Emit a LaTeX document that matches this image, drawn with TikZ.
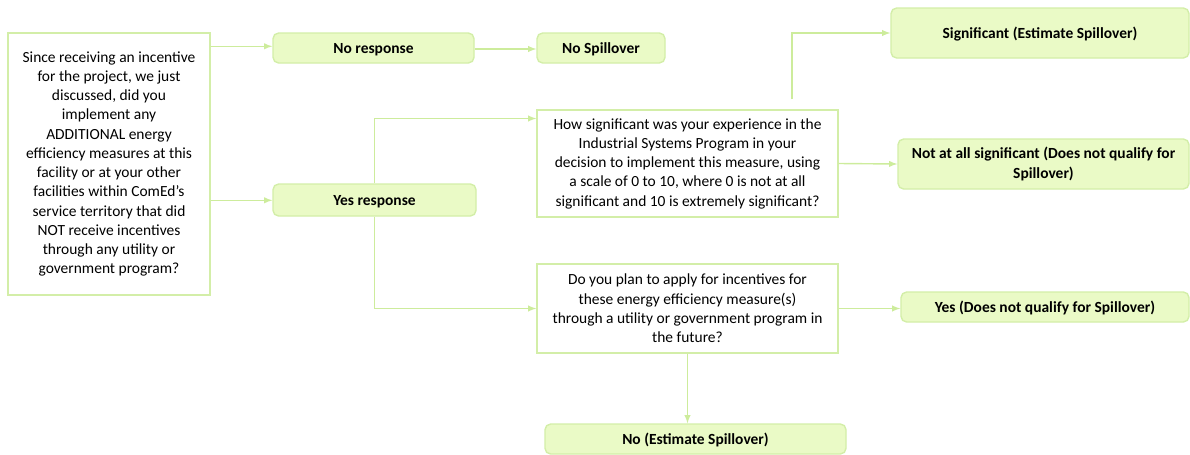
\documentclass[tikz,border=0pt]{standalone}
\usepackage{fontspec}
\setmainfont{Carlito}
\usetikzlibrary{positioning}
\newcommand{\unitsize}{0.025cm}
\definecolor{boxline}{HTML}{D3EEA8}
\definecolor{boxfill}{HTML}{EAFAC6}
\definecolor{linkcol}{HTML}{CDEC9C}

\tikzstyle{question}=[draw=boxline, fill=white, align=center, inner sep=0pt,
                      line width=1pt, font=\fontsize{11}{13.7}\selectfont]
\tikzstyle{answer}=[draw=boxline, fill=boxfill, rounded corners=4pt, align=center,
                    inner sep=0pt, line width=1pt, font=\bfseries\fontsize{11}{13.7}\selectfont]
\tikzstyle{oneline}=[text height=1.6ex, text depth=0.1ex]
\tikzstyle{link}=[draw=linkcol, line width=1pt, -latex]

\begin{document}
\begin{tikzpicture}
\useasboundingbox (0,0) rectangle (1190*\unitsize,-454*\unitsize);

% first question and its two answers
\node[question, minimum width=202*\unitsize, minimum height=262*\unitsize] (incent) at (109*\unitsize,-164*\unitsize)
  {Since receiving an incentive\\for the project, we just\\discussed, did you\\implement any\\ADDITIONAL energy\\efficiency measures at this\\facility or at your other\\facilities within ComEd’s\\service territory that did\\NOT receive incentives\\through any utility or\\government program?};
\node[answer, oneline, minimum width=201*\unitsize, minimum height=30*\unitsize] (noresp) at (373.5*\unitsize,-48*\unitsize) {No response};
\node[answer, oneline, minimum width=128*\unitsize, minimum height=30*\unitsize] (nospill) at (601*\unitsize,-48*\unitsize) {No Spillover};
\node[answer, oneline, minimum width=203*\unitsize, minimum height=32*\unitsize] (yesresp) at (374.5*\unitsize,-200*\unitsize) {Yes response};

% follow-up questions
\node[question, minimum width=301*\unitsize, minimum height=107*\unitsize] (signif) at (687.5*\unitsize,-163.5*\unitsize)
  {How significant was your experience in the\\Industrial Systems Program in your\\decision to implement this measure, using\\a scale of 0 to 10, where 0 is not at all\\significant and 10 is extremely significant?};
\node[question, minimum width=301*\unitsize, minimum height=89*\unitsize] (future) at (687.5*\unitsize,-308.5*\unitsize)
  {Do you plan to apply for incentives for\\these energy efficiency measure(s)\\through a utility or government program in\\the future?};

% outcomes
\node[answer, oneline, minimum width=298*\unitsize, minimum height=50*\unitsize] (sigyes) at (1040*\unitsize,-33*\unitsize) {Significant (Estimate Spillover)};
\node[answer, minimum width=291*\unitsize, minimum height=50*\unitsize] (signot) at (1043.5*\unitsize,-164*\unitsize) {Not at all significant (Does not qualify for\\Spillover)};
\node[answer, oneline, minimum width=288*\unitsize, minimum height=30*\unitsize] (futyes) at (1045*\unitsize,-307*\unitsize) {Yes (Does not qualify for Spillover)};
\node[answer, oneline, minimum width=301*\unitsize, minimum height=30*\unitsize] (futno) at (695.5*\unitsize,-439*\unitsize) {No (Estimate Spillover)};

% connectors
\draw[link] ([yshift=-14*\unitsize]incent.north east) -- ([yshift=-14*\unitsize]incent.north east -| noresp.west);
\draw[link] ([yshift=-168*\unitsize]incent.north east) -- ([yshift=-168*\unitsize]incent.north east -| yesresp.west);
\draw[link] ([yshift=-1*\unitsize]noresp.east) -- ([yshift=-1*\unitsize]noresp.east -| nospill.west);
\draw[link] (yesresp.north) |- ([yshift=45*\unitsize]signif.west);
\draw[link] (yesresp.south) |- (future.west);
\draw[link] ([xshift=104.5*\unitsize,yshift=10*\unitsize]signif.north) |- (sigyes.west);
\draw[link] (signif.east) -- (signot.west);
\draw[link] (future.east) -- (future.east -| futyes.west);
\draw[link] (future.south) -- (future.south |- futno.north);

\end{tikzpicture}
\end{document}
